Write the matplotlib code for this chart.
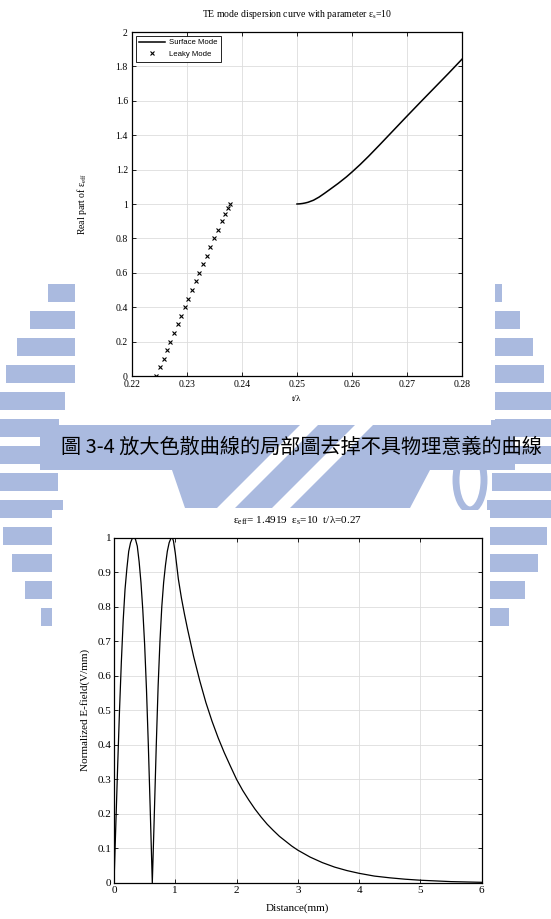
import numpy as np
import matplotlib
matplotlib.use("Agg")
import matplotlib.pyplot as plt
from matplotlib.patches import Polygon, Rectangle, Ellipse
from matplotlib.ticker import FuncFormatter

plt.rcParams['font.family'] = ['Liberation Serif', 'DejaVu Serif']
plt.rcParams['mathtext.fontset'] = 'custom'
plt.rcParams['mathtext.rm'] = 'Liberation Serif'
plt.rcParams['mathtext.it'] = 'Liberation Serif:italic'

# ---- data: dispersion curve (top) ----
surface_t = [0.250, 0.2505, 0.251, 0.2515, 0.252, 0.253, 0.254, 0.255, 0.256, 0.2575,
             0.259, 0.260, 0.2615, 0.263, 0.265, 0.2675, 0.270, 0.2725, 0.275,
             0.2775, 0.280]
surface_eps = [1.000, 1.001, 1.003, 1.006, 1.010, 1.022, 1.040, 1.062, 1.085, 1.120,
               1.158, 1.186, 1.230, 1.277, 1.343, 1.427, 1.511, 1.594, 1.676,
               1.758, 1.842]

leaky_t = [0.22442, 0.22515, 0.22576, 0.22636, 0.22697, 0.22764, 0.22830, 0.22891,
           0.22958, 0.23024, 0.23091, 0.23158, 0.23224, 0.23291, 0.23358, 0.23424,
           0.23497, 0.23564, 0.23636, 0.23697, 0.23745, 0.23776]
leaky_eps = [0.00, 0.05, 0.10, 0.15, 0.20, 0.25, 0.30, 0.35, 0.40, 0.45, 0.50, 0.55,
             0.60, 0.65, 0.70, 0.75, 0.80, 0.85, 0.90, 0.94, 0.975, 1.00]

# ---- data: normalized E-field (bottom) ----
dist_mm = [0.00, 0.03, 0.06, 0.09, 0.12, 0.15, 0.18, 0.21, 0.24, 0.27, 0.30, 0.325,
           0.35, 0.38, 0.41, 0.44, 0.47, 0.50, 0.53, 0.56, 0.59, 0.625,
           0.65, 0.69, 0.72, 0.75, 0.78, 0.81, 0.84, 0.87, 0.90, 0.93, 0.95, 0.97,
           1.00, 1.05, 1.10, 1.15, 1.20, 1.30, 1.40, 1.50, 1.60, 1.70, 1.80, 1.90,
           2.00, 2.10, 2.20, 2.30, 2.40, 2.50, 2.60, 2.70, 2.80, 2.90, 3.00,
           3.20, 3.40, 3.60, 3.80, 4.00, 4.25, 4.50, 4.75, 5.00, 5.25, 5.50,
           5.75, 6.00]
efield = [0.00, 0.17, 0.34, 0.50, 0.64, 0.76, 0.85, 0.91, 0.96, 0.985, 0.998, 1.00,
          0.995, 0.975, 0.93, 0.87, 0.79, 0.69, 0.56, 0.40, 0.22, 0.00,
          0.15, 0.40, 0.57, 0.70, 0.80, 0.87, 0.92, 0.96, 0.985, 0.998, 1.00, 0.99,
          0.955, 0.88, 0.825, 0.778, 0.735, 0.655, 0.585, 0.522, 0.468, 0.420,
          0.377, 0.338, 0.300, 0.268, 0.240, 0.214, 0.191, 0.170, 0.152, 0.135,
          0.121, 0.107, 0.095, 0.075, 0.059, 0.046, 0.036, 0.028, 0.020, 0.015,
          0.011, 0.008, 0.006, 0.004, 0.003, 0.002]

W, H = 551, 919
fig = plt.figure(figsize=(W / 100, H / 100), dpi=100)

# ---- watermark background (page decoration) ----
bg = fig.add_axes([0, 0, 1, 1], zorder=-5)
bg.set_xlim(0, W)
bg.set_ylim(H, 0)
bg.axis('off')
wm = '#aabadf'
cx, cy, R, r = 275, 460, 282, 218
for y0 in range(284, 660, 27):
    ym = y0 + 9
    dy = abs(ym - cy)
    if dy >= R:
        continue
    ox = np.sqrt(R ** 2 - dy ** 2)
    ix = np.sqrt(r ** 2 - dy ** 2) if dy < r else 0
    bg.add_patch(Rectangle((cx - ox, y0), ox - ix, 18, color=wm, lw=0))
    bg.add_patch(Rectangle((cx + ix, y0), ox - ix, 18, color=wm, lw=0))
bg.add_patch(Polygon([(40, 425), (515, 425), (515, 470), (40, 470)], color=wm, lw=0))
bg.add_patch(Polygon([(172, 470), (430, 470), (410, 508), (185, 508)], color=wm, lw=0))
for x0 in (300, 355):
    bg.add_patch(Polygon([(x0, 425), (x0 + 18, 425), (x0 - 67, 510), (x0 - 85, 510)],
                         color='white', lw=0))
bg.add_patch(Ellipse((470, 480), 28, 60, fill=False, ec=wm, lw=5))
# white backgrounds of the pasted figures
bg.add_patch(Rectangle((75, 0), 420, 420, color='white', lw=0))
bg.add_patch(Rectangle((52, 510), 438, 409, color='white', lw=0))

fmt = FuncFormatter(lambda v, _: f"{v:g}")

# ---- top chart ----
ax1 = fig.add_axes([132 / W, 1 - 376 / H, 330 / W, 344 / H])
ax1.plot(surface_t, surface_eps, color='black', lw=1.1, label='Surface Mode')
ax1.plot(leaky_t, leaky_eps, ls='none', marker='x', ms=3.0, mew=0.8,
         color='black', label='Leaky Mode')
ax1.set_xlim(0.22, 0.28)
ax1.set_ylim(0, 2)
ax1.set_xticks(np.arange(0.22, 0.2801, 0.01))
ax1.set_yticks(np.arange(0, 2.001, 0.2))
ax1.xaxis.set_major_formatter(fmt)
ax1.yaxis.set_major_formatter(fmt)
ax1.grid(True, color='#dddddd', lw=0.6)
ax1.tick_params(direction='in', top=True, right=True, length=3, width=0.6,
                labelsize=7, pad=3)
ax1.set_title(r'TE mode dispersion curve with parameter ε$_\mathrm{s}$=10',
              fontsize=7, y=1.018)
ax1.set_xlabel('t/λ', fontsize=6.5)
ax1.xaxis.set_label_coords(0.5, -0.055)
ax1.set_ylabel(r'Real part of ε$_\mathrm{eff}$', fontsize=7)
ax1.yaxis.set_label_coords(-0.13, 0.5)
for s in ax1.spines.values():
    s.set_linewidth(0.9)
leg = ax1.legend(loc='upper left', prop={'family': 'Liberation Sans', 'size': 5.6},
                 fancybox=False, edgecolor='black', framealpha=1,
                 handlelength=3.4, borderaxespad=0.45, borderpad=0.45,
                 labelspacing=0.55, handletextpad=0.4)
leg.get_frame().set_linewidth(0.6)

# ---- caption ----
fig.text(301 / W, 1 - 447 / H, '圖 3-4 放大色散曲線的局部圖去掉不具物理意義的曲線',
         family=['Noto Sans CJK TC', 'DejaVu Sans'], fontsize=14.5,
         ha='center', va='center', color='black')

# ---- bottom chart ----
ax2 = fig.add_axes([114 / W, 1 - 883 / H, 367.7 / W, 345.5 / H])
ax2.plot(dist_mm, efield, color='black', lw=0.9)
ax2.set_xlim(0, 6)
ax2.set_ylim(0, 1)
ax2.set_xticks(range(0, 7))
ax2.set_yticks(np.arange(0, 1.001, 0.1))
ax2.xaxis.set_major_formatter(fmt)
ax2.yaxis.set_major_formatter(fmt)
ax2.grid(True, color='#dddddd', lw=0.6)
ax2.tick_params(direction='in', top=True, right=True, length=3, width=0.6,
                labelsize=8, pad=2)
ax2.set_title(r'ε$_\mathrm{eff}$= 1.4919  ε$_\mathrm{s}$=10  t/λ=0.27',
              fontsize=8, y=1.015)
ax2.set_xlabel('Distance(mm)', fontsize=8)
ax2.xaxis.set_label_coords(0.5, -0.06)
ax2.set_ylabel('Normalized E-field(V/mm)', fontsize=8)
ax2.yaxis.set_label_coords(-0.065, 0.5)
for s in ax2.spines.values():
    s.set_linewidth(0.9)

fig.savefig('out.png', dpi=100)
